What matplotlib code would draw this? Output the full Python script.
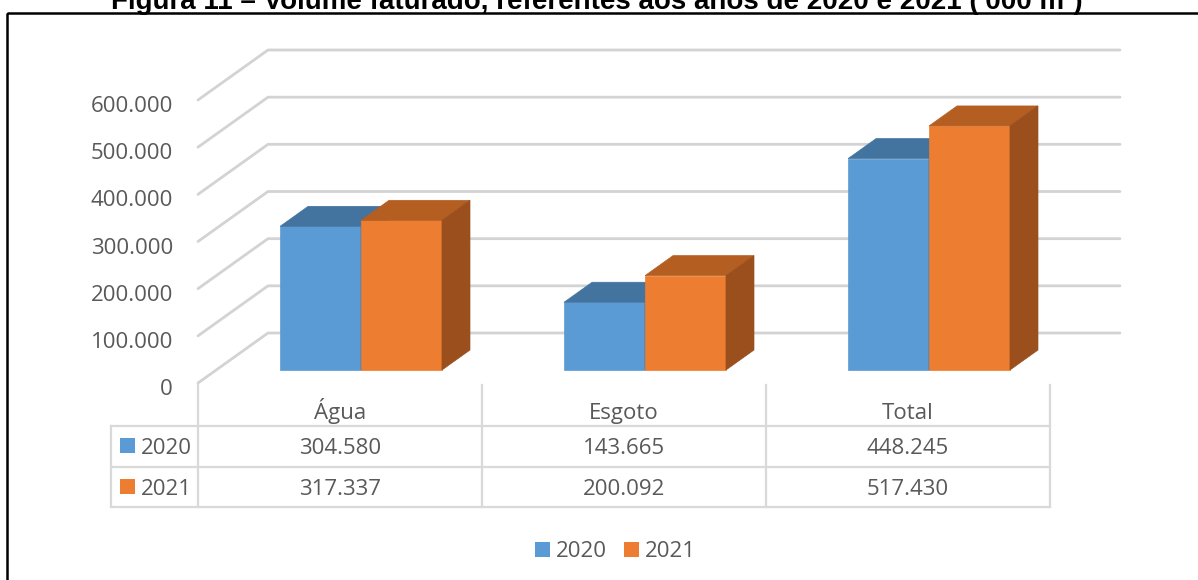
import numpy as np
import matplotlib
matplotlib.use("Agg")
from matplotlib import pyplot as plt
from matplotlib import transforms
from matplotlib.patches import Polygon, Rectangle

categories = ["Água", "Esgoto", "Total"]
years = ["2020", "2021"]
vol_2020 = [304580, 143665, 448245]
vol_2021 = [317337, 200092, 517430]
y_ticks = [0, 100000, 200000, 300000, 400000, 500000, 600000]
title = "Figura 11 – Volume faturado, referentes aos anos de 2020 e 2021 ('000 m³)"

# colours: front, top, side
blue = ("#5b9bd5", "#43739f", "#3f6d97")
orange = ("#ed7d31", "#b45e22", "#9a4f1c")
grid_col = "#d3d3d3"
line_col = "#d9d9d9"
txt_col = "#595959"

W, H = 1198, 580
X0_PX, COL_PX = 198, 284          # front wall x, width of one category
Y0_PX, VAL_PX = 383, 283 / 600000  # baseline y, pixels per unit
DEPTH_DX = 70 / COL_PX
DEPTH_DY = 50 / VAL_PX
BAR_W = 0.285
BAR_SHIFT = 0.01
D_FRONT, D_BACK = 0.26, 0.66

plt.rcParams["font.family"] = ["Open Sans", "DejaVu Sans"]


def br(v):
    return f"{v:,}".replace(",", ".")


def proj(x, v, d):
    return x + d * DEPTH_DX, v + d * DEPTH_DY


def cat_px(x):
    return X0_PX + COL_PX * (x + 0.5)


fig = plt.figure(figsize=(W / 100, H / 100), dpi=100)

lay = fig.add_axes([0, 0, 1, 1])
lay.set_xlim(0, W)
lay.set_ylim(H, 0)
lay.axis("off")

ax = fig.add_axes([0, 0, 1, 1])
ax.set_xlim(-0.5 - X0_PX / COL_PX, -0.5 + (W - X0_PX) / COL_PX)
ax.set_ylim(-(H - Y0_PX) / VAL_PX, Y0_PX / VAL_PX)
ax.axis("off")

# walls / gridlines
for v in y_ticks:
    pts = np.array([proj(-0.5, v, 0), proj(-0.5, v, 1), proj(2.5, v, 1)])
    ax.plot(pts[:, 0], pts[:, 1], color=grid_col, lw=2, solid_capstyle="round", zorder=1)

tick_tr = transforms.blended_transform_factory(lay.transData, ax.transData)
tick_tr = transforms.offset_copy(tick_tr, fig=fig, y=-12, units="dots")
for v in y_ticks:
    ax.text(173, v, br(v), transform=tick_tr, ha="right", va="baseline",
            fontsize=16, color=txt_col)


def draw_bar(xl, v, cols):
    xr = xl + BAR_W
    front = [proj(xl, 0, D_FRONT), proj(xr, 0, D_FRONT), proj(xr, v, D_FRONT), proj(xl, v, D_FRONT)]
    top = [proj(xl, v, D_FRONT), proj(xr, v, D_FRONT), proj(xr, v, D_BACK), proj(xl, v, D_BACK)]
    side = [proj(xr, 0, D_FRONT), proj(xr, 0, D_BACK), proj(xr, v, D_BACK), proj(xr, v, D_FRONT)]
    for poly, c in zip([front, top, side], cols):
        ax.add_patch(Polygon(poly, closed=True, facecolor=c, edgecolor=c, lw=0.5, zorder=3))


for i in range(len(categories)):
    draw_bar(i + BAR_SHIFT - BAR_W, vol_2020[i], blue)
    draw_bar(i + BAR_SHIFT, vol_2021[i], orange)

# data table
row_base = [454, 495]
for x in [-0.5, 0.5, 1.5, 2.5]:
    lay.plot([cat_px(x)] * 2, [385, 507], color=line_col, lw=1.6, zorder=1)
lay.plot([111, 111], [426, 507], color=line_col, lw=1.6)
for y in [426, 467, 507]:
    lay.plot([111, cat_px(2.5)], [y, y], color=line_col, lw=1.6)

for i, cat in enumerate(categories):
    lay.text(cat_px(i), 419, cat, ha="center", va="baseline", fontsize=16, color=txt_col)
    lay.text(cat_px(i), row_base[0], br(vol_2020[i]), ha="center", va="baseline",
             fontsize=16, color=txt_col)
    lay.text(cat_px(i), row_base[1], br(vol_2021[i]), ha="center", va="baseline",
             fontsize=16, color=txt_col)

for y, yr, cols in zip(row_base, years, [blue, orange]):
    lay.add_patch(Rectangle((120, y - 16), 15, 15, facecolor=cols[0], edgecolor="none"))
    lay.text(141, y, yr, ha="left", va="baseline", fontsize=16, color=txt_col)

# legend
for x, yr, cols in zip([535, 624], years, [blue, orange]):
    lay.add_patch(Rectangle((x, 542), 15, 15, facecolor=cols[0], edgecolor="none"))
    lay.text(x + 21, 557, yr, ha="left", va="baseline", fontsize=16, color=txt_col)

# frame and caption
lay.add_patch(Rectangle((7, 13), 1300, 700, facecolor="none", edgecolor="black", lw=1.8))
lay.text(597, 9, title, ha="center", va="baseline", fontsize=20, fontweight="bold",
         family=["Liberation Sans", "DejaVu Sans"], color="black")

fig.savefig("out.png", dpi=100)
